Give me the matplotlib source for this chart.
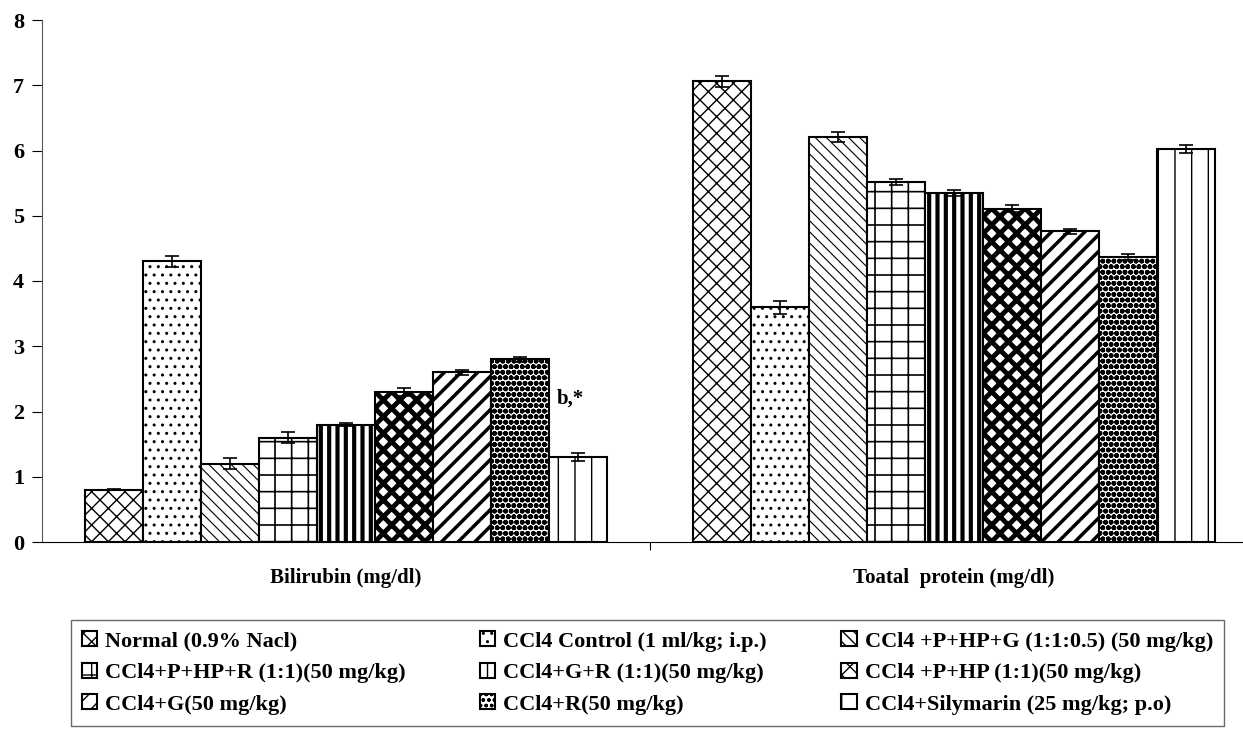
import matplotlib.pyplot as plt
import numpy as np

plt.rcParams['font.family'] = ['Liberation Serif', 'DejaVu Serif']
plt.rcParams['font.weight'] = 'bold'
plt.rcParams['hatch.linewidth'] = 1.0

# groups on the x axis
categories = ["Bilirubin (mg/dl)", "Toatal  protein (mg/dl)"]

# treatment groups
groups = ["Normal (0.9% Nacl)", "CCl4 Control (1 ml/kg; i.p.)",
          "CCl4 +P+HP+G (1:1:0.5) (50 mg/kg)", "CCl4+P+HP+R (1:1)(50 mg/kg)",
          "CCl4+G+R (1:1)(50 mg/kg)", "CCl4 +P+HP (1:1)(50 mg/kg)",
          "CCl4+G(50 mg/kg)", "CCl4+R(50 mg/kg)", "CCl4+Silymarin (25 mg/kg; p.o)"]

# means, one list per group: [bilirubin, total protein]
means = [[0.80, 7.06], [4.30, 3.60], [1.20, 6.21], [1.60, 5.52], [1.80, 5.35],
         [2.30, 5.11], [2.60, 4.76], [2.80, 4.37], [1.30, 6.02]]
errs = [[0.01, 0.08], [0.08, 0.10], [0.08, 0.08], [0.08, 0.05], [0.02, 0.05],
        [0.06, 0.06], [0.04, 0.04], [0.04, 0.05], [0.06, 0.06]]

hatches = ['xx', '..', '\\\\\\', '+', '||', 'xx', '//', 'ooo', '|']
hatch_lw = [1.0, 1.0, 0.8, 1.2, 3.0, 3.5, 2.5, 1.8, 1.0]

fig = plt.figure(figsize=(12.43, 7.31), dpi=100)
ax = fig.add_axes([42/1243, 189/731, 1201/1243, 522/731])

x = np.arange(len(categories))
w = 0.0954
bars = []
for i, g in enumerate(groups):
    pos = x - 4*w + i*w
    b = ax.bar(pos, means[i], w, color='white', edgecolor='black',
               linewidth=1.5, hatch=hatches[i], label=g,
               yerr=errs[i], capsize=5,
               error_kw=dict(ecolor='black', elinewidth=1.2, capthick=1.2))
    for p in b.patches:
        if hasattr(p, 'set_hatch_linewidth'):
            p.set_hatch_linewidth(hatch_lw[i])
    bars.append(b)

# significance mark next to the R bar
ax.text(x[0] + 3.5*w + 0.013, 2.2, "b,*", fontsize=15, fontweight='bold',
        ha='left', va='center')

ax.set_ylim(0, 8)
ax.set_yticks(range(9))
ax.set_xlim(-0.5, -0.5 + 1201/608)
ax.set_xticks([0.5])
ax.set_xticklabels([''])
ax.set_xticks(x, minor=True)
ax.set_xticklabels(categories, minor=True)
ax.tick_params(axis='x', which='minor', length=0, pad=19, labelsize=15)
ax.tick_params(axis='x', which='major', length=6, direction='out')
ax.tick_params(axis='y', length=7, labelsize=16, pad=6)
for s in ['top', 'right']:
    ax.spines[s].set_visible(False)
ax.spines['left'].set_color('#555555')

# legend laid out row by row
order = [0, 3, 6, 1, 4, 7, 2, 5, 8]
handles = [bars[k] for k in order]
labels = [groups[k] for k in order]
leg = fig.legend(handles, labels, ncol=3, loc='upper left',
                 bbox_to_anchor=(71/1243, 1 - 620/731), borderaxespad=0,
                 fontsize=16, frameon=True, fancybox=False,
                 edgecolor='#444444', handlelength=0.68, handleheight=0.68,
                 handletextpad=0.36, labelspacing=0.5, borderpad=0.5,
                 columnspacing=3.35)
leg.get_frame().set_linewidth(1.0)

fig.savefig('out.png', dpi=100)
